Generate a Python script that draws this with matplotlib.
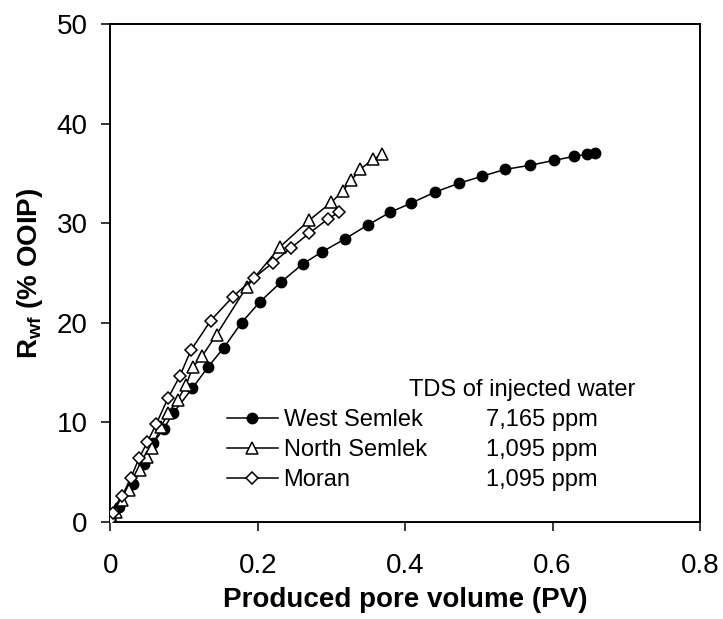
import matplotlib
matplotlib.use("Agg")
import matplotlib.pyplot as plt

plt.rcParams['font.family'] = ['Liberation Sans', 'DejaVu Sans']
plt.rcParams['mathtext.fontset'] = 'custom'
plt.rcParams['mathtext.rm'] = 'Liberation Sans'
plt.rcParams['mathtext.bf'] = 'Liberation Sans:bold'

# West Semlek (filled circles)
x_ws = [0.0, 0.012, 0.03, 0.045, 0.058, 0.072, 0.085, 0.111, 0.132, 0.154, 0.178,
        0.203, 0.232, 0.261, 0.287, 0.318, 0.349, 0.380, 0.408, 0.440, 0.473,
        0.504, 0.536, 0.569, 0.602, 0.629, 0.647, 0.658]
y_ws = [0.2, 1.5, 3.8, 5.8, 7.9, 9.3, 10.9, 13.4, 15.5, 17.5, 20.0,
        22.1, 24.1, 25.9, 27.1, 28.4, 29.8, 31.1, 32.0, 33.1, 34.0,
        34.7, 35.4, 35.8, 36.3, 36.7, 36.9, 37.0]

# North Semlek (open triangles)
x_ns = [0.0, 0.0075, 0.015, 0.0255, 0.04, 0.049, 0.056, 0.0685, 0.078, 0.091,
        0.1025, 0.1115, 0.124, 0.144, 0.185, 0.23, 0.27, 0.30, 0.315,
        0.327, 0.339, 0.356, 0.369]
y_ns = [0.3, 1.0, 2.2, 3.2, 5.2, 6.5, 7.4, 9.5, 10.9, 12.2,
        13.7, 15.5, 16.6, 18.8, 23.6, 27.6, 30.3, 32.1, 33.2,
        34.3, 35.4, 36.4, 36.9]

# Moran (open diamonds)
x_mo = [0.0, 0.004, 0.016, 0.0275, 0.039, 0.05, 0.062, 0.078, 0.094, 0.109,
        0.136, 0.166, 0.195, 0.22, 0.245, 0.27, 0.295, 0.31]
y_mo = [0.2, 0.9, 2.6, 4.4, 6.4, 8.0, 9.8, 12.4, 14.6, 17.2,
        20.2, 22.6, 24.5, 26.0, 27.5, 29.0, 30.4, 31.1]

names = ["West Semlek", "North Semlek", "Moran"]
tds = ["7,165 ppm", "1,095 ppm", "1,095 ppm"]

fig = plt.figure(figsize=(7.23, 6.19), dpi=100)
ax = fig.add_axes([0.1528, 0.1572, 0.8152, 0.804])

l1, = ax.plot(x_ws, y_ws, '-o', color='black', lw=1.1, ms=7.5,
              mfc='black', mec='black', label=names[0], zorder=3)
l2, = ax.plot(x_ns, y_ns, '-^', color='black', lw=1.1, ms=8.5,
              mfc='white', mec='black', mew=1.1, label=names[1], zorder=4)
l3, = ax.plot(x_mo, y_mo, '-D', color='black', lw=1.1, ms=6.5,
              mfc='white', mec='black', mew=1.1, label=names[2], zorder=5)

ax.set_xlim(0, 0.8)
ax.set_ylim(0, 50)
ax.set_xticks([0, 0.2, 0.4, 0.6, 0.8])
ax.set_xticklabels(['0', '0.2', '0.4', '0.6', '0.8'])
ax.set_yticks([0, 10, 20, 30, 40, 50])

for s in ax.spines.values():
    s.set_linewidth(1.4)
ax.tick_params(axis='both', direction='out', length=6.5, width=1.1,
               labelsize=20)
ax.tick_params(axis='x', pad=16)
ax.tick_params(axis='y', pad=10)

ax.set_xlabel('Produced pore volume (PV)', fontsize=20, fontweight='bold',
              labelpad=6)
ax.set_ylabel(r'R$_{\mathbf{wf}}$ (% OOIP)', fontsize=20, fontweight='bold',
              labelpad=8)

leg = ax.legend(handles=[l1, l2, l3], loc='center left',
                bbox_to_anchor=(0.1976, 0.144), frameon=False, fontsize=17,
                handlelength=2.15, handletextpad=0.25, labelspacing=0.33,
                borderpad=0, borderaxespad=0)

ax.text(0.698, 0.2647, 'TDS of injected water', transform=ax.transAxes,
        fontsize=17, ha='center', va='center')
for yy, t in zip([0.2043, 0.144, 0.0839], tds):
    ax.text(0.732, yy, t, transform=ax.transAxes, fontsize=17,
            ha='center', va='center')

fig.savefig('out.png', dpi=100)
